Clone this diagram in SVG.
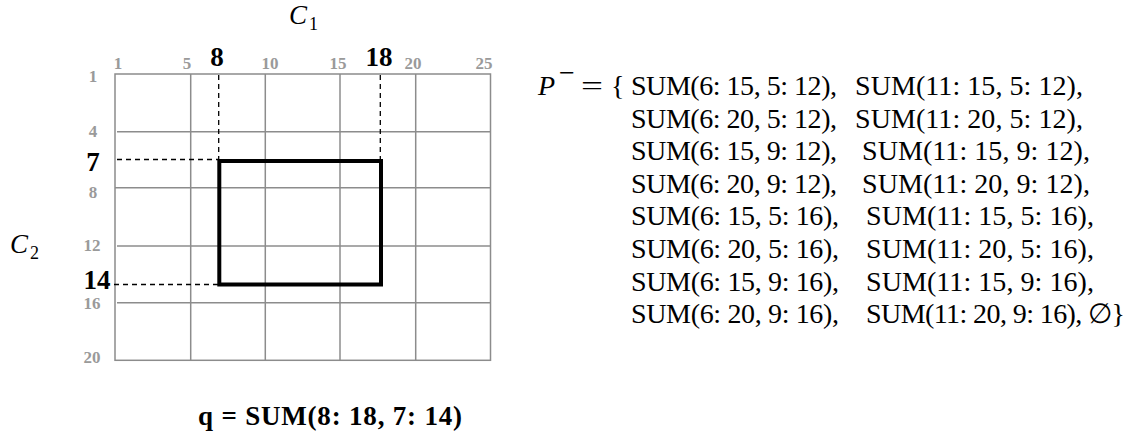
<svg xmlns="http://www.w3.org/2000/svg" width="1135" height="436" viewBox="0 0 1135 436">
  <style>
    .grid { stroke: #8c8c8c; stroke-width: 1.5; fill: none; }
    .guide { stroke: #000; stroke-width: 1.3; stroke-dasharray: 5 4; fill: none; }
    .query { stroke: #000; stroke-width: 4; fill: none; }
    .tick { font-family: "Liberation Serif", serif; font-weight: bold; font-size: 17px; fill: #9a9a9a; text-anchor: middle; }
    .mark { font-family: "Liberation Serif", serif; font-weight: bold; font-size: 27px; fill: #000; text-anchor: middle; }
    .axis { font-family: "Liberation Serif", serif; font-style: italic; font-size: 27px; fill: #000; }
    .sub { font-family: "Liberation Serif", serif; font-size: 18px; fill: #000; }
    .set { font-family: "Liberation Serif", serif; font-size: 28px; fill: #000; }
    .formula { font-family: "Liberation Serif", serif; font-weight: bold; font-size: 27px; fill: #000; }
  </style>
  <rect width="1135" height="436" fill="#fff"/>

  <!-- axis titles -->
  <g id="axis-c1">
    <text class="axis" x="289" y="24">C</text>
    <text class="sub" x="309" y="30">1</text>
  </g>
  <g id="axis-c2">
    <text class="axis" x="10" y="253">C</text>
    <text class="sub" x="30" y="259">2</text>
  </g>

  <!-- grid: 5 columns x 5 rows -->
  <g id="grid">
    <rect class="grid" x="115" y="74" width="375.5" height="286.3"/>
    <line class="grid" x1="190.7" y1="74" x2="190.7" y2="360.3"/>
    <line class="grid" x1="265.3" y1="74" x2="265.3" y2="360.3"/>
    <line class="grid" x1="340" y1="74" x2="340" y2="360.3"/>
    <line class="grid" x1="415.7" y1="74" x2="415.7" y2="360.3"/>
    <line class="grid" x1="117" y1="131.7" x2="490.5" y2="131.7"/>
    <line class="grid" x1="115" y1="187.7" x2="490.5" y2="187.7"/>
    <line class="grid" x1="117" y1="246" x2="490.5" y2="246"/>
    <line class="grid" x1="117" y1="302.7" x2="490.5" y2="302.7"/>
  </g>

  <!-- column ticks -->
  <g id="ticks-c1">
    <text class="tick" x="118" y="69">1</text>
    <text class="tick" x="187" y="69">5</text>
    <text class="tick" x="270" y="69">10</text>
    <text class="tick" x="338" y="69">15</text>
    <text class="tick" x="413" y="69">20</text>
    <text class="tick" x="484" y="69">25</text>
    <text class="mark" x="217" y="66">8</text>
    <text class="mark" x="379" y="66">18</text>
  </g>

  <!-- row ticks -->
  <g id="ticks-c2">
    <text class="tick" x="93" y="82">1</text>
    <text class="tick" x="93" y="137">4</text>
    <text class="tick" x="93" y="198">8</text>
    <text class="tick" x="92" y="251">12</text>
    <text class="tick" x="92" y="309">16</text>
    <text class="tick" x="92" y="363">20</text>
    <text class="mark" x="93" y="171">7</text>
    <text class="mark" x="97" y="289">14</text>
  </g>

  <!-- dashed guides from the bounds to the range box -->
  <g id="guides">
    <line class="guide" x1="218.7" y1="75" x2="218.7" y2="160"/>
    <line class="guide" x1="380.3" y1="75" x2="380.3" y2="160"/>
    <line class="guide" x1="117" y1="159.5" x2="218" y2="159.5"/>
    <line class="guide" x1="114" y1="284.5" x2="218" y2="284.5"/>
  </g>

  <!-- query range 8:18, 7:14 -->
  <g id="query-box">
    <rect class="query" x="219.3" y="161" width="161.7" height="123.5"/>
  </g>

  <g id="query-label">
    <text class="formula" x="198" y="425" textLength="264" lengthAdjust="spacing">q = SUM(8: 18, 7: 14)</text>
  </g>

  <!-- set P- -->
  <g id="set-p">
    <text class="set" x="538" y="95" font-size="30" font-style="italic">P</text>
    <text class="set" x="559" y="82" font-size="20">−</text>
    <text class="set" x="581" y="95" textLength="22" lengthAdjust="spacingAndGlyphs">=</text>
    <text class="set" x="611" y="95">{</text>

    <text class="set" x="631" y="95" textLength="206" lengthAdjust="spacing">SUM(6: 15, 5: 12),</text>
    <text class="set" x="855" y="95" textLength="228" lengthAdjust="spacing">SUM(11: 15, 5: 12),</text>

    <text class="set" x="631" y="127.6" textLength="206" lengthAdjust="spacing">SUM(6: 20, 5: 12),</text>
    <text class="set" x="855" y="127.6" textLength="228" lengthAdjust="spacing">SUM(11: 20, 5: 12),</text>

    <text class="set" x="631" y="160.2" textLength="206" lengthAdjust="spacing">SUM(6: 15, 9: 12),</text>
    <text class="set" x="862" y="160.2" textLength="228" lengthAdjust="spacing">SUM(11: 15, 9: 12),</text>

    <text class="set" x="631" y="192.8" textLength="206" lengthAdjust="spacing">SUM(6: 20, 9: 12),</text>
    <text class="set" x="862" y="192.8" textLength="228" lengthAdjust="spacing">SUM(11: 20, 9: 12),</text>

    <text class="set" x="631" y="225.4" textLength="208" lengthAdjust="spacing">SUM(6: 15, 5: 16),</text>
    <text class="set" x="866" y="225.4" textLength="228" lengthAdjust="spacing">SUM(11: 15, 5: 16),</text>

    <text class="set" x="631" y="258" textLength="208" lengthAdjust="spacing">SUM(6: 20, 5: 16),</text>
    <text class="set" x="866" y="258" textLength="228" lengthAdjust="spacing">SUM(11: 20, 5: 16),</text>

    <text class="set" x="631" y="290.6" textLength="208" lengthAdjust="spacing">SUM(6: 15, 9: 16),</text>
    <text class="set" x="866" y="290.6" textLength="228" lengthAdjust="spacing">SUM(11: 15, 9: 16),</text>

    <text class="set" x="631" y="323.2" textLength="208" lengthAdjust="spacing">SUM(6: 20, 9: 16),</text>
    <text class="set" x="866" y="323.2" textLength="259" lengthAdjust="spacing">SUM(11: 20, 9: 16), ∅}</text>
  </g>
</svg>
